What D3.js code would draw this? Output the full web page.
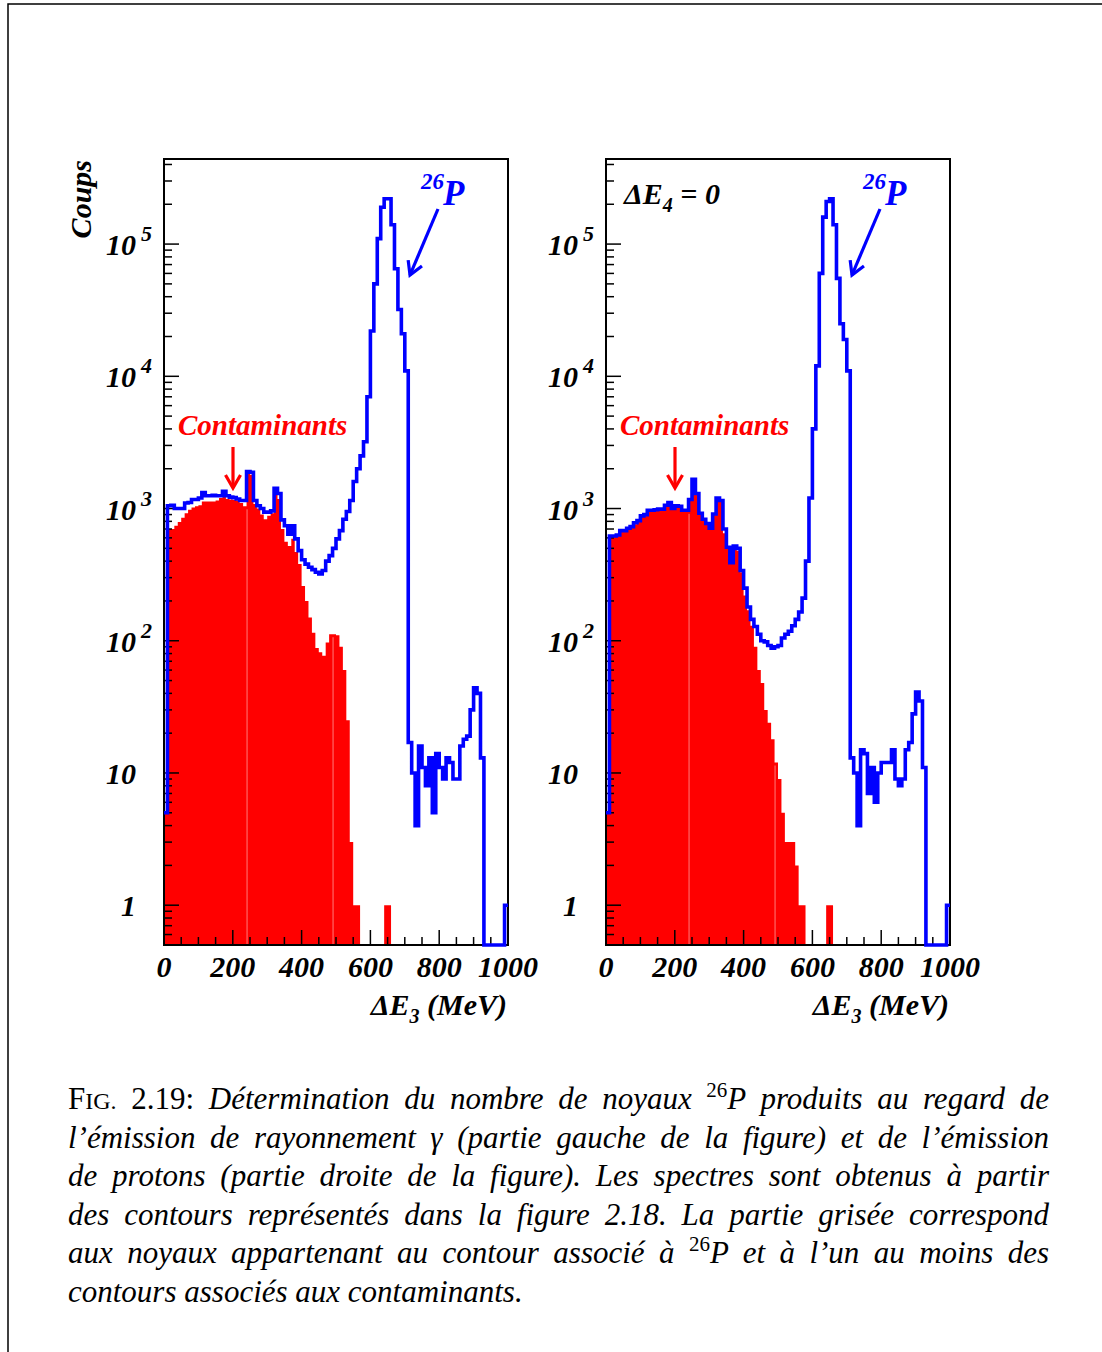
<!DOCTYPE html>
<html>
<head>
<meta charset="utf-8">
<script src="https://cdn.jsdelivr.net/npm/d3@7"></script>
<style>
  body { margin: 0; background: #fff; }
  svg { display: block; }
</style>
</head>
<body>
<div id="fig"></div>
<script>
// low edge of each 10 MeV bin
const energies = d3.range(0, 1000, 10);

// left panel : all 26P gated events / contaminant part (gamma emission)
const gammaAll = [
  5, 1050, 1060, 1000, 1000, 1000, 1100, 1110, 1170, 1170,
  1200, 1320, 1250, 1250, 1260, 1250, 1250, 1350, 1250, 1220,
  1210, 1180, 1150, 1150, 1900, 1880, 1150, 1050, 1000, 940,
  940, 960, 1420, 1300, 820, 740, 640, 740, 590, 480,
  410, 380, 360, 345, 330, 320, 340, 400, 440, 500,
  590, 680, 830, 950, 1150, 1600, 2000, 2500, 3200, 7000,
  22000, 50000, 110000, 190000, 220000, 220000, 140000, 65000, 32000, 21000,
  11000, 17, 10, 4, 16, 11, 8, 13, 5, 14,
  11, 9, 13, 12, 9, 9, 16, 18, 19, 30,
  44, 40, 13, 0, 0, 0, 0, 0, 0, 1
];
const gammaContam = [
  5, 700, 700, 740, 790, 850, 920, 980, 1020, 1040,
  1060, 1130, 1130, 1130, 1130, 1150, 1200, 1230, 1180, 1170,
  1160, 1150, 1100, 1040, 1830, 1800, 1080, 1000, 900, 830,
  880, 920, 1350, 1180, 700, 560, 520, 590, 470, 380,
  260, 200, 150, 115, 88, 82, 77, 97, 112, 112,
  110, 90, 60, 25, 3, 1, 1, 0, 0, 0,
  0, 0, 0, 0, 1, 1, 0, 0, 0, 0,
  0, 0, 0, 0, 0, 0, 0, 0, 0, 0,
  0, 0, 0, 0, 0, 0, 0, 0, 0, 0,
  0, 0, 0, 0, 0, 0, 0, 0, 0, 0
];

// right panel : DeltaE4 = 0 (proton emission)
const protonAll = [
  5, 620, 620, 630, 680, 680, 710, 730, 780, 810,
  880, 900, 970, 970, 980, 990, 990, 1060, 1110, 1000,
  1050, 1040, 970, 970, 1170, 1660, 1300, 920, 830, 770,
  710, 910, 1200, 1150, 700, 510, 390, 520, 500, 340,
  250, 180, 145, 128, 112, 100, 98, 92, 88, 90,
  92, 105, 112, 118, 130, 145, 165, 210, 400, 1200,
  4000, 12000, 60000, 160000, 210000, 220000, 140000, 55000, 25000, 19000,
  11000, 13, 10, 4, 15, 14, 7, 11, 6, 10,
  12, 12, 12, 15, 9, 8, 9, 15, 17, 28,
  41, 35, 11, 0, 0, 0, 0, 0, 0, 1
];
const protonContam = [
  5, 615, 615, 620, 670, 670, 700, 720, 760, 800,
  870, 890, 960, 960, 970, 980, 980, 1050, 1070, 990,
  1040, 1030, 960, 960, 1150, 1650, 1290, 900, 820, 760,
  700, 900, 1190, 1120, 650, 500, 380, 500, 480, 330,
  220, 170, 130, 90, 60, 48, 30, 24, 18, 12,
  9, 5, 3, 3, 3, 2, 1, 1, 0, 0,
  0, 0, 0, 0, 1, 1, 0, 0, 0, 0,
  0, 0, 0, 0, 0, 0, 0, 0, 0, 0,
  0, 0, 0, 0, 0, 0, 0, 0, 0, 0,
  0, 0, 0, 0, 0, 0, 0, 0, 0, 0
];

const xTicks = [0, 200, 400, 600, 800, 1000];
const yDecades = [0, 1, 2, 3, 4, 5];
const seamsMeV = [240, 490];

const captionLines = [
  [["F", "r"], ["IG.", "sc"], [" 2.19: ", "r"], ["Détermination du nombre de noyaux ", "i"], ["26", "sup"], ["P produits au regard de", "i"]],
  [["l’émission de rayonnement γ (partie gauche de la figure) et de l’émission", "i"]],
  [["de protons (partie droite de la figure). Les spectres sont obtenus à partir", "i"]],
  [["des contours représentés dans la figure 2.18. La partie grisée correspond", "i"]],
  [["aux noyaux appartenant au contour associé à ", "i"], ["26", "sup"], ["P et à l’un au moins des", "i"]],
  [["contours associés aux contaminants.", "i"]]
];

// pick a serif face if one is really installed
function hasFont(name) {
    const c = document.createElement("canvas").getContext("2d");
    const s = "mmmmmmmmmmlli10WQ@";
    return ["monospace", "sans-serif"].some(base => {
        c.font = `72px ${base}`;
        const w0 = c.measureText(s).width;
        c.font = `72px "${name}", ${base}`;
        return c.measureText(s).width !== w0;
    });
}
const serifFace = ["Liberation Serif", "Tinos", "Times New Roman", "Nimbus Roman", "FreeSerif", "DejaVu Serif", "Noto Serif"]
    .find(hasFont);
const fontStack = (serifFace ? `"${serifFace}", ` : "") + "serif";

const W = 1102, H = 1352;
const plotTop = 159, plotBottom = 945, plotW = 344;
const yMin = 0.5, yMax = 4.4e5;

const svg = d3.select("#fig").append("svg")
    .attr("width", W)
    .attr("height", H);

// page border
svg.append("path")
    .attr("d", "M8,1352V4H1102")
    .attr("fill", "none")
    .attr("stroke", "#000")
    .attr("stroke-width", 1.5);

const y = d3.scaleLog().domain([yMin, yMax]).range([plotBottom, plotTop]);
const yc = v => y(Math.max(v, yMin));

function arrow(g, x1, y1, x2, y2, color) {
    const a = Math.atan2(y2 - y1, x2 - x1), L = 15, s = Math.PI / 6;
    g.append("line")
        .attr("x1", x1).attr("y1", y1).attr("x2", x2).attr("y2", y2)
        .attr("stroke", color).attr("stroke-width", 3.2);
    const p1 = [x2 - L * Math.cos(a - s), y2 - L * Math.sin(a - s)];
    const p2 = [x2 - L * Math.cos(a + s), y2 - L * Math.sin(a + s)];
    g.append("path")
        .attr("d", `M${p1}L${x2},${y2}L${p2}`)
        .attr("fill", "none")
        .attr("stroke", color)
        .attr("stroke-width", 3.2);
}

function drawPanel(idx, x0, all, contam, withTitle, tag) {
    const x = d3.scaleLinear().domain([0, 1000]).range([x0, x0 + plotW]);
    const g = svg.append("g")
        .attr("font-family", fontStack)
        .attr("font-weight", "bold")
        .attr("font-style", "italic");

    const clipId = "clip" + idx;
    svg.append("clipPath").attr("id", clipId)
        .append("rect")
        .attr("x", x0 - 2).attr("y", plotTop)
        .attr("width", plotW + 4).attr("height", plotBottom - plotTop + 2);

    const pts = v => energies.map((e, i) => [e, v[i]]).concat([[1000, v[v.length - 1]]]);

    const area = d3.area()
        .x(d => x(d[0]))
        .y0(plotBottom)
        .y1(d => yc(d[1]))
        .curve(d3.curveStepAfter);

    const line = d3.line()
        .x(d => x(d[0]))
        .y(d => yc(d[1]))
        .curve(d3.curveStepAfter);

    // contaminants (filled)
    g.append("path")
        .attr("clip-path", `url(#${clipId})`)
        .attr("d", area(pts(contam)))
        .attr("fill", "#ff0000");

    // faint seams in the fill
    seamsMeV.forEach(m => {
        const i = energies.indexOf(m);
        const v = Math.min(contam[i - 1], contam[i]);
        g.append("line")
            .attr("x1", x(m) + 0.5).attr("x2", x(m) + 0.5)
            .attr("y1", plotBottom).attr("y2", yc(v) + 3)
            .attr("stroke", "#ff9a9a")
            .attr("stroke-width", 0.8);
    });

    // frame
    g.append("rect")
        .attr("x", x0).attr("y", plotTop)
        .attr("width", plotW).attr("height", plotBottom - plotTop)
        .attr("fill", "none")
        .attr("stroke", "#000")
        .attr("stroke-width", 2);

    // y ticks
    y.ticks().filter(t => t >= yMin && t <= yMax).forEach(t => {
        const lg = Math.log10(t);
        const major = Math.abs(lg - Math.round(lg)) < 1e-9;
        g.append("line")
            .attr("x1", x0).attr("x2", x0 + (major ? 15 : 8))
            .attr("y1", y(t)).attr("y2", y(t))
            .attr("stroke", "#000").attr("stroke-width", 1.5);
    });

    // x ticks
    d3.range(0, 1001, 50).forEach(t => {
        const major = t % 200 === 0;
        g.append("line")
            .attr("x1", x(t)).attr("x2", x(t))
            .attr("y1", plotBottom).attr("y2", plotBottom - (major ? 15 : 8))
            .attr("stroke", "#000").attr("stroke-width", 1.5);
    });

    // all events (blue outline)
    g.append("path")
        .attr("clip-path", `url(#${clipId})`)
        .attr("d", line(pts(all)))
        .attr("fill", "none")
        .attr("stroke", "#0000ff")
        .attr("stroke-width", 3.6);

    // y labels
    yDecades.forEach(d => {
        const yy = y(Math.pow(10, d));
        g.append("text")
            .attr("x", x0 - 28).attr("y", yy + 11)
            .attr("text-anchor", "end")
            .attr("font-size", 30)
            .text(d === 0 ? "1" : "10");
        if (d > 1) {
            g.append("text")
                .attr("x", x0 - 23).attr("y", yy - 3)
                .attr("font-size", 22)
                .text(d);
        }
    });

    // x labels
    xTicks.forEach(t => {
        g.append("text")
            .attr("x", x(t)).attr("y", 977)
            .attr("text-anchor", "middle")
            .attr("font-size", 30)
            .text(t);
    });

    // x title
    const xt = g.append("text")
        .attr("x", x0 + plotW - 1).attr("y", 1015)
        .attr("text-anchor", "end")
        .attr("font-size", 30);
    xt.append("tspan").text("ΔE");
    xt.append("tspan").attr("font-size", 20).attr("dy", 8).text("3");
    xt.append("tspan").attr("dy", -8).text(" (MeV)");

    if (withTitle) {
        g.append("text")
            .attr("transform", `translate(91,${plotTop + 1}) rotate(-90)`)
            .attr("text-anchor", "end")
            .attr("font-size", 30)
            .text("Coups");
    }

    if (tag) {
        const tt = g.append("text")
            .attr("x", x0 + 18).attr("y", 204)
            .attr("font-size", 30);
        tt.append("tspan").text("ΔE");
        tt.append("tspan").attr("font-size", 20).attr("dy", 8).text("4");
        tt.append("tspan").attr("dy", -8).text(" = 0");
    }

    // 26P label + arrow
    g.append("text")
        .attr("x", x0 + 257).attr("y", 189)
        .attr("font-size", 23)
        .attr("fill", "#0000ff")
        .text("26");
    g.append("text")
        .attr("x", x0 + 279).attr("y", 205)
        .attr("font-size", 35)
        .attr("fill", "#0000ff")
        .text("P");
    arrow(g, x0 + 274, 209, x0 + 246, 275, "#0000ff");

    // contaminants label + arrow
    g.append("text")
        .attr("x", x0 + 14).attr("y", 435)
        .attr("font-size", 29)
        .attr("fill", "#ff0000")
        .text("Contaminants");
    arrow(g, x0 + 69, 447, x0 + 69, 488, "#ff0000");
}

drawPanel(0, 164, gammaAll, gammaContam, true, false);
drawPanel(1, 606, protonAll, protonContam, false, true);

// caption, justified by word spacing
const capX = 68, capW = 981, capY = 1109, capStep = 38.6;
captionLines.forEach((segs, k) => {
    const t = svg.append("text")
        .attr("font-family", fontStack)
        .attr("x", capX)
        .attr("y", capY + k * capStep)
        .attr("font-size", 31)
        .style("white-space", "pre");
    let raised = false;
    segs.forEach(([txt, s]) => {
        const ts = t.append("tspan").text(txt);
        if (raised) { ts.attr("dy", 12); raised = false; }
        if (s === "i") ts.attr("font-style", "italic");
        if (s === "sc") ts.attr("font-size", 24);
        if (s === "sup") { ts.attr("font-size", 21).attr("dy", -12); raised = true; }
    });
    if (k < captionLines.length - 1) {
        const natural = t.node().getComputedTextLength();
        const spaces = (t.text().match(/ /g) || []).length;
        t.attr("word-spacing", (capW - natural) / spaces);
    }
});
</script>
</body>
</html>
